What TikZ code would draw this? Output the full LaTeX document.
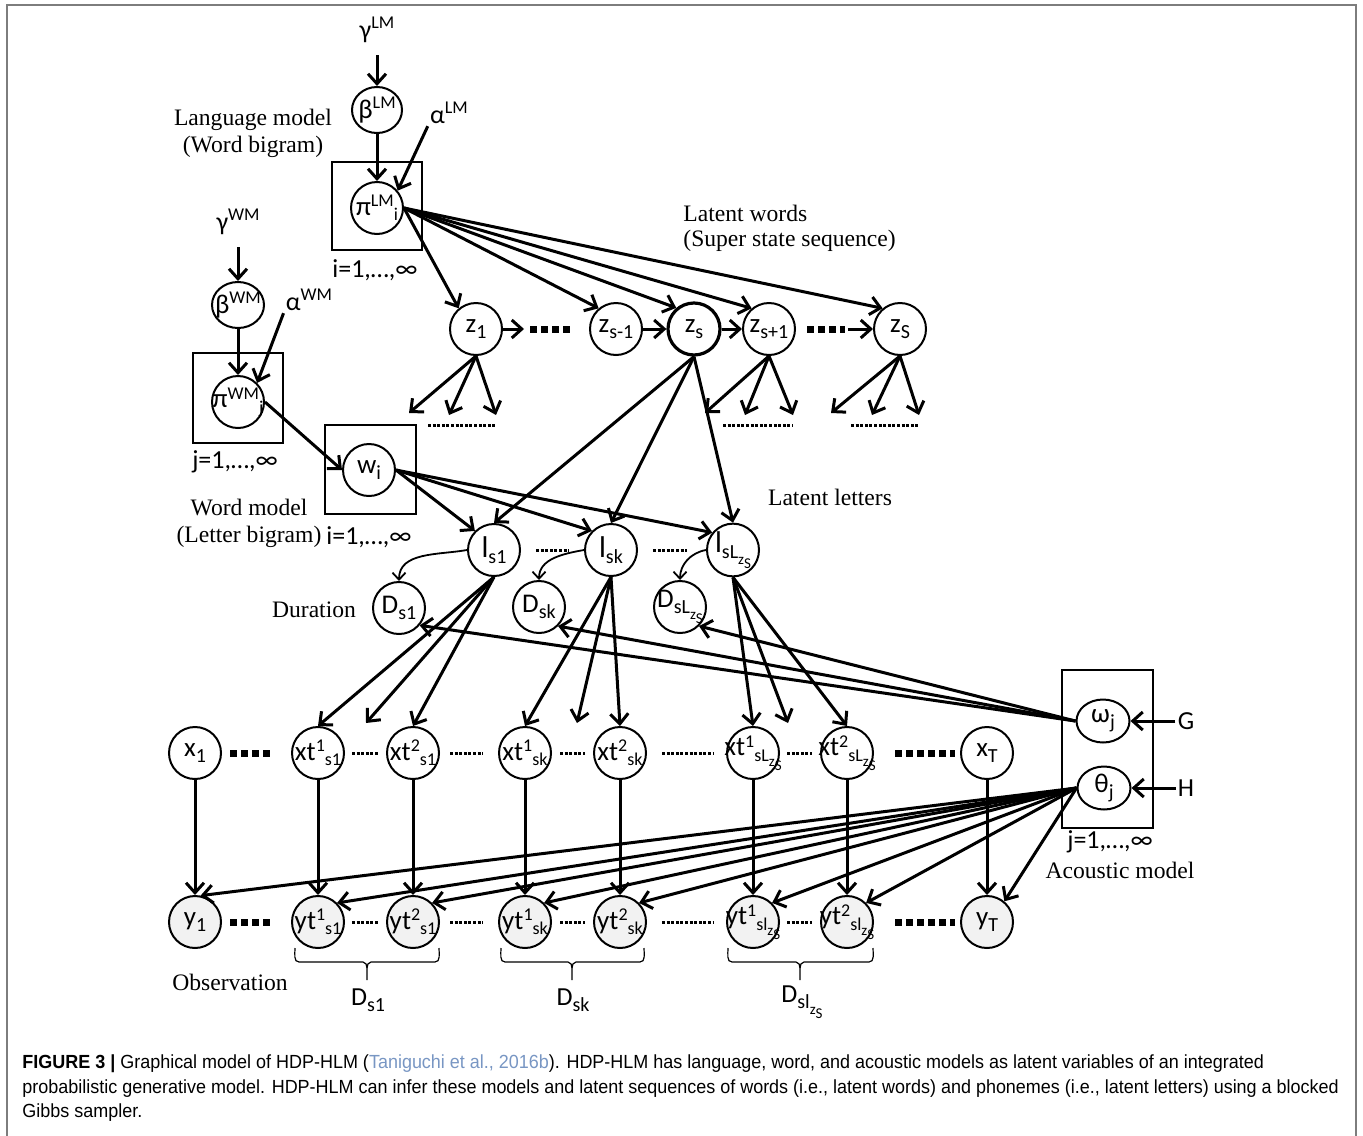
\documentclass[tikz,border=0pt]{standalone}
\usepackage{fontspec}
\usepackage{graphicx}
\usetikzlibrary{arrows.meta,shapes.geometric}
\setmainfont{Liberation Serif}
\newfontfamily\labfont{Carlito}
\newfontfamily\capfont{Liberation Sans}
\definecolor{obsfill}{RGB}{242,242,242}
\definecolor{framegray}{RGB}{125,125,125}
\definecolor{citeblue}{RGB}{120,150,195}
\newdimen\px \px=0.5pt
% zero-width label so the ellipse keeps its fixed size
\newcommand\lbl[1]{\makebox[0pt]{#1}}
% raised / lowered indices
\newcommand\up[1]{\raisebox{0.38em}{\fontsize{9}{9}\selectfont #1}}
\newcommand\dn[1]{\raisebox{-0.22em}{\fontsize{10}{10}\selectfont #1}}
\newcommand\hi[1]{\raisebox{0.33em}{\fontsize{9}{9}\selectfont #1}}
\newcommand\lo[1]{\raisebox{-0.2em}{\fontsize{9}{9}\selectfont #1}}
% index "s<letter>" carrying a further index z_S
\newcommand\lastsub[1]{s#1\raisebox{-0.3em}{\fontsize{7.5}{8}\selectfont z\raisebox{-0.25em}{S}}}
% condensed caption line
\newcommand\capline[1]{\scalebox{0.946}[1]{#1}}
\tikzset{
  var/.style={ellipse, draw, line width=1pt, fill=white, inner sep=0pt,
    minimum width=52\px, minimum height=52\px,
    font=\labfont\fontsize{13.5}{15}\selectfont},
  obs/.style={var, fill=obsfill},
  param/.style={font=\labfont\fontsize{13}{15}\selectfont, inner sep=1pt},
  plate/.style={draw, line width=0.8pt},
  note/.style={font=\fontsize{11.8}{13.5}\selectfont, inner sep=0pt, align=center},
  caption/.style={anchor=base west, inner sep=0pt, font=\capfont\fontsize{9.5}{11}\selectfont},
  arr/.style={line width=1.5pt, -{Straight Barb[length=5pt,width=9pt]}},
  thinarr/.style={line width=0.9pt, -{Straight Barb[length=3.5pt,width=6.5pt]}},
  bigdots/.style={line width=3.5pt, dash pattern=on 3.5pt off 2pt},
  smalldots/.style={line width=1.5pt, dash pattern=on 1.5pt off 0.8pt},
  brace/.style={line width=0.6pt},
}
\newcommand\bracket[3]{% left x, right x, middle x
  \draw[brace] (#1,948) to[out=-90,in=180] (#1+4,962) -- (#3-4,962)
     to[out=0,in=90] (#3,968) -- (#3,980);
  \draw[brace] (#3,968) to[out=90,in=180] (#3+4,962) -- (#2-4,962)
     to[out=0,in=-90] (#2,948);}
\begin{document}
\begin{tikzpicture}[x=0.5pt,y=-0.5pt]
\useasboundingbox (0,0) rectangle (1363,1135);
\draw[framegray, line width=1pt] (7,1136) -- (7,5) -- (1356,5) -- (1356,1136);

% ---------- language model ----------
\node[param] (gLM) at (377,30) {γ\up{LM}};
\node[var, minimum width=50\px, minimum height=46\px] (bLM) at (377,110) {\lbl{β\up{LM}}};
\node[param] (aLM) at (449,113) {α\up{LM}};
\node[var] (piLM) at (377,208) {\lbl{π\hi{LM}\lo{i}}};
\draw[plate] (332,162) rectangle (422,250);
\node[param] (iLM) at (375,270) {i=1,…,∞};
\node[note] (lmlabel) at (253,133) {Language model\\(Word bigram)};

% ---------- word model ----------
\node[param] (gWM) at (238,222) {γ\up{WM}};
\node[var, minimum width=52\px, minimum height=46\px] (bWM) at (238,305) {\lbl{β\up{WM}}};
\node[param] (aWM) at (309,300) {α\up{WM}};
\node[var] (piWM) at (238,402) {\lbl{π\hi{WM}\lo{j}}};
\draw[plate] (193,353) rectangle (283,443);
\node[param] (jWM) at (235,462) {j=1,…,∞};
\node[var] (w) at (369,470) {\lbl{w\dn{i}}};
\draw[plate] (325,425) rectangle (416,514);
\node[param] (iW) at (369,537) {i=1,…,∞};
\node[note] (wmlabel) at (249,523) {Word model\\(Letter bigram)};

% ---------- latent words ----------
\node[var] (z1) at (476,329) {\lbl{z\dn{1}}};
\node[var] (zsm) at (616,329) {\lbl{z\dn{s-1}}};
\node[var, line width=1.6pt] (zs) at (694,329) {\lbl{z\dn{s}}};
\node[var] (zsp) at (769,329) {\lbl{z\dn{s+1}}};
\node[var] (zS) at (900,329) {\lbl{z\dn{S}}};
\node[note, anchor=west] (lw1) at (683,213) {Latent words};
\node[note, anchor=west] (lw2) at (683,241) {(Super state sequence)};

% ---------- latent letters and durations ----------
\node[var, font=\labfont\fontsize{15}{17}\selectfont] (la) at (494,550) {\lbl{l\dn{s1}}};
\node[var, font=\labfont\fontsize{15}{17}\selectfont] (lb) at (611,550) {\lbl{l\dn{sk}}};
\node[var, font=\labfont\fontsize{15}{17}\selectfont] (lc) at (733,550) {\lbl{l\dn{\lastsub{L}}}};
\node[note] (ll) at (830,497) {Latent letters};
\node[var] (da) at (399,608) {\lbl{D\dn{s1}}};
\node[var] (db) at (539,607) {\lbl{D\dn{sk}}};
\node[var] (dc) at (680,607) {\lbl{D\dn{\lastsub{L}}}};
\node[note] (dur) at (314,610) {Duration};

% ---------- frames x ----------
\node[var] (x1) at (195,753) {\lbl{x\dn{1}}};
\node[var] (xa1) at (318,753) {\lbl{xt\hi{1}\lo{s1}}};
\node[var] (xa2) at (413,753) {\lbl{xt\hi{2}\lo{s1}}};
\node[var] (xb1) at (525,753) {\lbl{xt\hi{1}\lo{sk}}};
\node[var] (xb2) at (620,753) {\lbl{xt\hi{2}\lo{sk}}};
\node[var] (xc1) at (753,753) {\lbl{xt\hi{1}\lo{\lastsub{L}}}};
\node[var] (xc2) at (847,753) {\lbl{xt\hi{2}\lo{\lastsub{L}}}};
\node[var] (xT) at (987,753) {\lbl{x\dn{T}}};

% ---------- observations y ----------
\node[obs] (y1) at (195,922) {\lbl{y\dn{1}}};
\node[obs] (ya1) at (318,922) {\lbl{yt\hi{1}\lo{s1}}};
\node[obs] (ya2) at (413,922) {\lbl{yt\hi{2}\lo{s1}}};
\node[obs] (yb1) at (525,922) {\lbl{yt\hi{1}\lo{sk}}};
\node[obs] (yb2) at (620,922) {\lbl{yt\hi{2}\lo{sk}}};
\node[obs] (yc1) at (753,922) {\lbl{yt\hi{1}\lo{\lastsub{l}}}};
\node[obs] (yc2) at (847,922) {\lbl{yt\hi{2}\lo{\lastsub{l}}}};
\node[obs] (yT) at (987,922) {\lbl{y\dn{T}}};
\node[note] (obslabel) at (230,982) {Observation};

% ---------- acoustic model ----------
\node[var, minimum width=53\px, minimum height=43\px] (om) at (1103,721) {\lbl{ω\dn{j}}};
\node[var, minimum width=53\px, minimum height=43\px] (th) at (1104,788) {\lbl{θ\dn{j}}};
\draw[plate] (1062,670) rectangle (1153,828);
\node[param] (G) at (1186,721) {G};
\node[param] (H) at (1186,788) {H};
\node[param] (jA) at (1110,842) {j=1,…,∞};
\node[note] (am) at (1120,870) {Acoustic model};

% ---------- duration brackets ----------
\bracket{295}{439}{367}
\bracket{501}{644}{572}
\bracket{728}{873}{800}
\node[param] (bda) at (368,1000) {D\dn{s1}};
\node[param] (bdb) at (573,1000) {D\dn{sk}};
\node[param] (bdc) at (802,1002) {D\dn{\lastsub{l}}};

% ---------- free arrow ends ----------
\coordinate (zd1) at (524,329);
\coordinate (zd2) at (848,329);
\coordinate (c1a) at (409,413); \coordinate (c1b) at (449,415); \coordinate (c1c) at (496,415);
\coordinate (c2a) at (705,413); \coordinate (c2b) at (745,415); \coordinate (c2c) at (793,415);
\coordinate (c3a) at (831,413); \coordinate (c3b) at (872,415); \coordinate (c3c) at (919,415);
\coordinate (fa) at (366,723); \coordinate (fb) at (577,723); \coordinate (fc) at (788,723);

% ---------- connectors ----------
\draw[arr, shorten <=5pt] (gLM) -- (bLM);
\draw[arr] (bLM) -- (piLM);
\draw[arr] (aLM.south west) -- (piLM.40);
\foreach \t in {z1,zsm,zs,zsp,zS} \draw[arr] (piLM.east) -- (\t.130);

\draw[arr, shorten <=5pt] (gWM) -- (bWM);
\draw[arr] (bWM) -- (piWM);
\draw[arr] (aWM.south west) -- (piWM.45);
\draw[arr] (piWM.east) -- (w.west);

\draw[arr] (z1) -- (zd1);
\draw[arr] (zsm) -- (zs);
\draw[arr] (zs) -- (zsp);
\draw[arr] (zd2) -- (zS);
\foreach \c in {c1a,c1b,c1c} \draw[arr] (z1.south) -- (\c);
\foreach \c in {c2a,c2b,c2c} \draw[arr] (zsp.south) -- (\c);
\foreach \c in {c3a,c3b,c3c} \draw[arr] (zS.south) -- (\c);

\foreach \t in {la,lb,lc} \draw[arr] (zs.south) -- (\t.north);
\draw[arr] (w.east) -- (la.135);
\draw[arr] (w.east) -- (lb.135);
\draw[arr] (w.east) -- (lc.140);

\draw[thinarr] (la.west) to[out=190,in=90] (da.north);
\draw[thinarr] (lb.west) to[out=190,in=90] (db.north);
\draw[thinarr] (lc.west) to[out=190,in=90] (dc.north);

\draw[arr] (la.south) -- (xa1.north);
\draw[arr] (la.south) -- (fa);
\draw[arr] (la.south) -- (xa2.north);
\draw[arr] (lb.south) -- (xb1.north);
\draw[arr] (lb.south) -- (fb);
\draw[arr] (lb.south) -- (xb2.north);
\draw[arr] (lc.south) -- (xc1.north);
\draw[arr] (lc.south) -- (fc);
\draw[arr] (lc.south) -- (xc2.north);

\draw[arr] (om.west) -- (da.-40);
\draw[arr] (om.west) -- (db.-45);
\draw[arr] (om.west) -- (dc.-45);
\draw[arr] (G) -- (om);
\draw[arr] (H) -- (th);

\foreach \a/\b in {x1/y1,xa1/ya1,xa2/ya2,xb1/yb1,xb2/yb2,xc1/yc1,xc2/yc2,xT/yT}
  \draw[arr] (\a.south) -- (\b.north);
\draw[arr] (th.west) -- (y1.78);
\foreach \t in {ya1,ya2,yb1,yb2,yc1,yc2} \draw[arr] (th.west) -- (\t.45);
\draw[arr] (th.west) -- (yT.50);

% ---------- ellipsis marks ----------
\draw[bigdots] (530,329) -- (572,329);
\draw[bigdots] (807,329) -- (845,329);
\draw[smalldots] (428,425) -- (496,425);
\draw[smalldots] (723,425) -- (793,425);
\draw[smalldots] (851,425) -- (919,425);
\draw[smalldots] (536,550) -- (569,550);
\draw[smalldots] (653,550) -- (687,550);
\foreach \yy in {753,922}{
  \draw[bigdots] (230,\yy) -- (272,\yy);
  \draw[smalldots] (352,\yy) -- (378,\yy);
  \draw[smalldots] (450,\yy) -- (483,\yy);
  \draw[smalldots] (560,\yy) -- (585,\yy);
  \draw[smalldots] (662,\yy) -- (713,\yy);
  \draw[smalldots] (787,\yy) -- (812,\yy);
  \draw[bigdots] (895,\yy) -- (955,\yy);
}

% ---------- caption ----------
\node[caption] (cap1) at (22,1068)
  {\capline{\textbf{FIGURE 3 |} Graphical model of HDP-HLM ({\color{citeblue}Taniguchi et al., 2016b}). HDP-HLM has language, word, and acoustic models as latent variables of an integrated}};
\node[caption] (cap2) at (22,1093)
  {\capline{probabilistic generative model. HDP-HLM can infer these models and latent sequences of words (i.e., latent words) and phonemes (i.e., latent letters) using a blocked}};
\node[caption] (cap3) at (22,1117) {\capline{Gibbs sampler.}};
\end{tikzpicture}
\end{document}
